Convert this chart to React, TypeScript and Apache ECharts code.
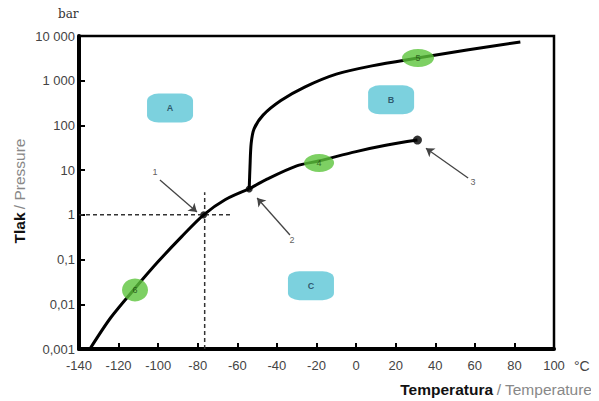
import React, { useEffect, useRef } from "react";
import * as echarts from "echarts";

// ---- data ----
const xTicks = [-140, -120, -100, -80, -60, -40, -20, 0, 20, 40, 60, 80, 100];
const yTickLabels = ["0,001", "0,01", "0,1", "1", "10", "100", "1 000", "10 000"];

// sublimation curve (solid <-> gas)
const sublimation: [number, number][] = [
  [-134.5, 0.001], [-124, 0.005], [-112, 0.022], [-100, 0.09], [-88, 0.33],
  [-77, 1], [-66, 2.2], [-54, 3.8],
];
// vaporisation curve (liquid <-> gas)
const vaporisation: [number, number][] = [
  [-54, 3.8], [-45, 6.3], [-30, 12.5], [-19, 16], [0, 26], [15, 36], [31, 47],
];
// melting curve (solid <-> liquid)
const melting: [number, number][] = [
  [-54, 3.8], [-53.6, 12], [-53, 40], [-51.5, 85], [-47, 170], [-38, 360],
  [-26, 720], [-10, 1400], [8, 2150], [31, 3220], [56, 4870], [83, 7370],
];
const keyPoints: [number, number][] = [[-77, 1], [-54, 3.8]];
const criticalPoint: [number, number][] = [[31, 47]];

const regionBoxes = [
  { name: "A", value: [-94, 245] },
  { name: "B", value: [17.7, 374] },
  { name: "C", value: [-22.8, 0.026] },
];
const curveMarks = [
  { name: "5", value: [31.3, 3220], size: [32, 18] },
  { name: "4", value: [-18.7, 14.4], size: [30, 18] },
  { name: "6", value: [-111.7, 0.021], size: [26, 23] },
];
const dashH: [number, number][] = [[-140, 1], [-62.5, 1]];
const dashV: [number, number][] = [[-76.5, 0.001], [-76.5, 3.2]];
const arrows = [
  { coords: [[-99.1, 6.0], [-80.4, 1.16]] },
  { coords: [[-33.4, 0.355], [-50, 2.38]] },
  { coords: [[56.6, 6.65], [35.3, 31]] },
];
const arrowLabels = [
  { name: "1", value: [-101.6, 9.1] },
  { name: "2", value: [-32.4, 0.27] },
  { name: "3", value: [59.1, 5.4] },
];

export default function App() {
  const ref = useRef<HTMLDivElement>(null);
  useEffect(() => {
    if (!ref.current) return;
    const chart = echarts.init(ref.current, undefined, { renderer: "svg" });
    const font = "Liberation Sans, Arial, sans-serif";
    const curveStyle = { color: "#000", width: 3 };
    chart.setOption({
      animation: false,
      backgroundColor: "#fff",
      grid: {
        left: 79, right: 45, top: 36, bottom: 52, containLabel: false,
        show: true, borderColor: "#000", borderWidth: 2.5,
      },
      xAxis: {
        type: "value", min: -140, max: 100, interval: 20,
        splitLine: { show: false },
        axisLine: { onZero: false, lineStyle: { color: "#000", width: 4 } },
        axisTick: { inside: true, length: 6, lineStyle: { color: "#000", width: 2 } },
        axisLabel: {
          color: "#444", fontSize: 13, fontFamily: font, margin: 10,
          formatter: (v: number) => (xTicks.includes(v) ? String(v) : ""),
        },
      },
      yAxis: {
        type: "log", logBase: 10, min: 0.001, max: 10000, splitNumber: 7,
        splitLine: { show: false },
        axisLine: { onZero: false, lineStyle: { color: "#000", width: 4 } },
        axisTick: { inside: true, length: 6, lineStyle: { color: "#000", width: 2 } },
        axisLabel: {
          color: "#444", fontSize: 13, fontFamily: font, margin: 4,
          formatter: (v: number) => {
            const e = Math.round(Math.log10(v));
            return yTickLabels[e + 3] ?? "";
          },
        },
      },
      graphic: [
        { type: "text", left: 58, top: 8, style: { text: "bar", fontSize: 12, fontFamily: "DejaVu Serif, serif", fill: "#333" } },
        {
          type: "text", x: 19, y: 191, rotation: Math.PI / 2,
          style: {
            text: "{b|Tlak} {g|/ Pressure}", align: "center", verticalAlign: "middle",
            rich: {
              b: { fontSize: 15.5, fontWeight: "bold", fill: "#111", fontFamily: font },
              g: { fontSize: 15.5, fill: "#888", fontFamily: font },
            },
          },
        },
        {
          type: "text", x: 592, y: 389,
          style: {
            text: "{b|Temperatura} {g|/ Temperature}", align: "right", verticalAlign: "middle",
            rich: {
              b: { fontSize: 15.5, fontWeight: "bold", fill: "#111", fontFamily: font },
              g: { fontSize: 15.5, fill: "#888", fontFamily: font },
            },
          },
        },
        { type: "text", x: 574, y: 366, style: { text: "°C", fontSize: 14, fill: "#444", fontFamily: font, verticalAlign: "middle" } },
      ],
      series: [
        { type: "line", data: dashH, showSymbol: false, silent: true, lineStyle: { color: "#333", width: 1.5, type: [4, 3] } },
        { type: "line", data: dashV, showSymbol: false, silent: true, lineStyle: { color: "#333", width: 1.5, type: [4, 3] } },
        { type: "line", data: sublimation, smooth: 0.3, showSymbol: false, lineStyle: curveStyle },
        { type: "line", data: vaporisation, smooth: 0.3, showSymbol: false, lineStyle: curveStyle },
        { type: "line", data: melting, smooth: 0.3, showSymbol: false, lineStyle: curveStyle },
        { type: "scatter", data: keyPoints, symbolSize: 7, itemStyle: { color: "#000" } },
        { type: "scatter", data: criticalPoint, symbolSize: 9, itemStyle: { color: "#000" } },
        {
          type: "lines", coordinateSystem: "cartesian2d", data: arrows,
          symbol: ["none", "arrow"], symbolSize: 8,
          lineStyle: { color: "#444", width: 1.3, opacity: 1 },
        },
        {
          type: "scatter", data: arrowLabels, symbolSize: 1, itemStyle: { color: "transparent" },
          label: { show: true, formatter: "{b}", color: "#333", fontSize: 9, fontFamily: font, position: "inside" },
        },
        {
          type: "scatter",
          data: regionBoxes.map((b) => ({ name: b.name, value: b.value })),
          symbol: "roundRect", symbolSize: [46, 29],
          itemStyle: { color: "#5bc5d6" },
          label: { show: true, formatter: "{b}", color: "#1a3a50", fontSize: 9, fontWeight: "bold", fontFamily: font, position: "inside" },
        },
        {
          type: "scatter",
          data: curveMarks.map((m) => ({
            name: m.name, value: m.value, symbolSize: m.size,
            label: { show: true, formatter: m.name },
          })),
          symbol: "circle",
          itemStyle: { color: "#5cc43c" },
          label: { show: true, color: "#1d4a12", fontSize: 9, fontFamily: font, position: "inside" },
          z: 5,
        },
      ],
    });
    return () => chart.dispose();
  }, []);
  return <div ref={ref} style={{ width: 599, height: 401, marginLeft: -8, marginTop: -8 }} />;
}
